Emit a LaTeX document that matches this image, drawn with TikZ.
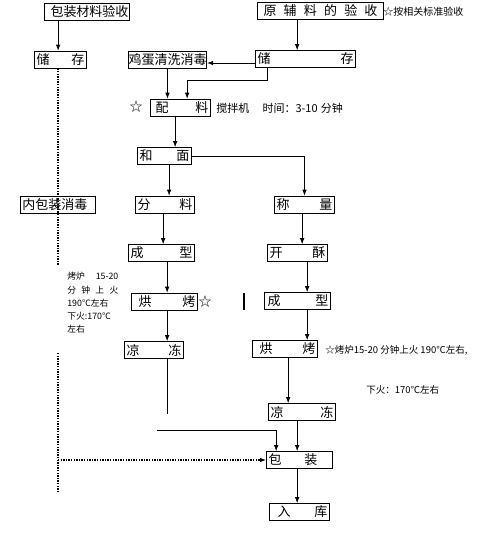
\documentclass[tikz,border=0pt]{standalone}
\usepackage{fontspec}
\setmainfont{Noto Sans CJK SC}
\usetikzlibrary{arrows.meta}
\newcommand{\spreadtxt}[2]{\hbox to #1{#2}}
\tikzset{
  stepbox/.style={draw, line width=0.7pt, minimum height=17pt, inner xsep=2pt, inner ysep=0pt, font=\fontsize{13}{13}\selectfont},
  note/.style={inner sep=0pt, font=\fontsize{9.5}{11}\selectfont},
  dotline/.style={line width=1.4pt, dash pattern=on 1.4pt off 1.2pt},
}
\begin{document}
\begin{tikzpicture}[x=1pt, y=-1pt, >={Latex[length=6pt,width=4.5pt]}, line width=0.7pt]
    \useasboundingbox (0,0) rectangle (500,542);

    % left column
    \node[stepbox] (pkgchk) at (87,11.5) {\spreadtxt{81pt}{\hspace{4pt}包装材料验收\hfill}};
    \node[stepbox] (store1) at (60.5,59.5) {\spreadtxt{48pt}{储\hfill 存}};
    \node[stepbox] (inner) at (58,204.5) {\spreadtxt{71pt}{内包装消毒\hfill}};

    % main column
    \node[stepbox] (rawchk) at (320.5,11) {\spreadtxt{122pt}{\hspace{4pt}原\hfill 辅\hfill 料\hfill 的\hfill 验\hfill 收\hspace{4pt}}};
    \node[stepbox] (store2) at (305.5,59) {\spreadtxt{96pt}{储\hfill 存}};
    \node[stepbox, inner xsep=0.3pt] (egg) at (167.5,59.5) {鸡蛋清洗消毒};
    \node[stepbox] (mix) at (180.5,107.5) {\spreadtxt{56pt}{\hspace{3pt}配\hfill 料}};
    \node[stepbox] (dough) at (164.5,156) {\spreadtxt{50pt}{和\hfill 面}};
    \node[stepbox] (divide) at (165,204.5) {\spreadtxt{55pt}{分\hfill 料}};
    \node[stepbox] (weigh) at (304.5,204.5) {\spreadtxt{56pt}{称\hfill 量}};
    \node[stepbox] (shape1) at (161.5,253) {\spreadtxt{62pt}{成\hfill 型}};
    \node[stepbox] (puff) at (297.5,253) {\spreadtxt{56pt}{开\hfill 酥}};
    \node[stepbox] (bake1) at (164.5,301.5) {\spreadtxt{62pt}{\hspace{5pt}烘\hfill 烤}};
    \node[stepbox] (shape2) at (297.5,301) {\spreadtxt{62pt}{\hspace{1pt}成\hfill 型}};
    \node[stepbox] (cool1) at (154,350) {\spreadtxt{55pt}{凉\hfill 冻}};
    \node[stepbox] (bake2) at (285,349) {\spreadtxt{61pt}{\hspace{5pt}烘\hfill 烤}};
    \node[stepbox] (cool2) at (302,412) {\spreadtxt{63pt}{凉\hfill 冻}};
    \node[stepbox] (pack) at (299.5,460) {\spreadtxt{62pt}{包\hfill 装\hspace{13pt}}};
    \node[stepbox] (store3) at (299.5,512) {\spreadtxt{56pt}{\hspace{6pt}入\hfill 库}};

    % notes
    \node[note, anchor=west, font=\fontsize{10}{11}\selectfont] (rawnote) at (383,12) {☆按相关标准验收};
    \node[note, font=\fontsize{13}{13}\selectfont] (star1) at (136,107) {☆};
    \node[note, anchor=west, font=\fontsize{11}{11}\selectfont] (mixnote) at (216,108) {搅拌机\hspace{1.2em}时间：3-10\hspace{0.3em}分钟};
    \node[note, font=\fontsize{13}{13}\selectfont] (star2) at (205,302) {☆};
    \node[note, anchor=north west, align=left, font=\fontsize{8.8}{13.3}\selectfont] (bakenote1) at (67,272)
      {\spreadtxt{51pt}{烤炉\hfill 15-20}\\ \spreadtxt{51pt}{分\hfill 钟\hfill 上\hfill 火}\\ 190℃左右\\ 下火:170℃\\ 左右};
    \node[note, anchor=west] (bakenote2) at (325,350) {☆烤炉15-20 分钟上火 190℃左右,};
    \node[note, anchor=west] (bakenote3) at (366,390) {下火：170℃左右};
    \coordinate (c1) at (167.5,414);
    \coordinate (c2) at (157,430);
    \coordinate (d1) at (58,265);
    \coordinate (d2) at (58,353);
    \coordinate (d3) at (58,493);

    % connectors
    \draw[->] ([xshift=14pt]pkgchk.south west) -- ([xshift=24pt]store1.north west);
    \draw[->] ([xshift=40pt]rawchk.south west) -- ([xshift=42pt]store2.north west);
    \draw[->] ([yshift=-4pt]store2.west) -- ([yshift=-3.5pt]egg.east);
    \draw[->] ([xshift=12pt]store2.south west) -- ++(0,12) -| ([xshift=37pt]mix.north west);
    \draw[->] (egg.south) -- (egg.south |- mix.north);
    \draw[->] ([xshift=25pt]mix.south west) -- ([xshift=38pt]dough.north west);
    \draw[->] ([xshift=32pt]dough.south west) -- ([xshift=34pt]divide.north west);
    \draw[->] (dough.east) -| (weigh.north);
    \draw[->] ([xshift=28pt]divide.south west) -- ([xshift=35pt]shape1.north west);
    \draw[->] ([xshift=28pt]weigh.south west) -- ([xshift=35pt]puff.north west);
    \draw[->] ([xshift=39pt]shape1.south west) -- ([xshift=36pt]bake1.north west);
    \draw[->] ([xshift=36pt]bake1.south west) -- ([xshift=43pt]cool1.north west);
    \draw[->] ([xshift=40pt]puff.south west) -- ([xshift=43pt]shape2.north west);
    \draw[->] ([xshift=43pt]shape2.south west) -- ([xshift=55pt]bake2.north west);
    \draw[->] ([xshift=36pt]bake2.south west) -- ([xshift=20pt]cool2.north west);
    \draw (c1 |- cool1.south) -- (c1);
    \draw[->] (c2) -| ([xshift=10pt]pack.north west);
    \draw[->] ([xshift=29pt]cool2.south west) -- ([xshift=31pt]pack.north west);
    \draw[->] ([xshift=31pt]pack.south west) -- ([xshift=28pt]store3.north west);
    \draw[line width=1.5pt] (244,293) -- (244,310);

    % dotted packaging line
    \draw[dotline] ([xshift=-2.5pt]store1.south) -- (d1);
    \draw[dotline] (d2) -- (d3);
    \draw[dotline, ->] (d2 |- pack.west) -- (pack.west);
  \end{tikzpicture}
\end{document}
